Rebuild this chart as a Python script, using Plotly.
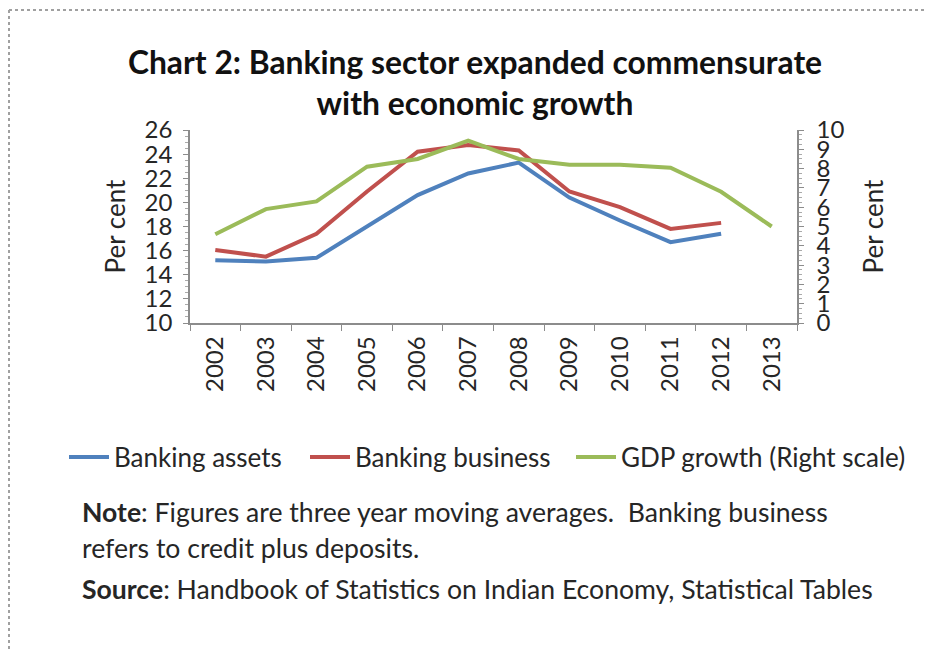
import plotly.graph_objects as go

years = ["2002", "2003", "2004", "2005", "2006", "2007", "2008", "2009", "2010", "2011", "2012", "2013"]
banking_assets = [15.2, 15.1, 15.4, 18.0, 20.6, 22.4, 23.3, 20.4, 18.5, 16.7, 17.4, None]
banking_business = [16.05, 15.5, 17.4, 20.9, 24.2, 24.75, 24.3, 20.9, 19.6, 17.8, 18.3, None]
gdp_growth = [4.6, 5.9, 6.3, 8.1, 8.5, 9.45, 8.5, 8.2, 8.2, 8.05, 6.8, 5.0]

W, H = 933, 651
OFF = 8  # page body margin of the html page
L, R, T, B = 190, 797, 130, 323  # plot area in reference (page) pixels


def px(x):
    return (x - L) / (R - L)


def py(y):
    return (B - y) / (B - T)


FONT = "Lato"
TXT = "#262626"
FS = 24

fig = go.Figure()
fig.add_trace(go.Scatter(x=years, y=banking_assets, name="Banking assets", mode="lines",
                         line=dict(color="#4F81BD", width=4), legend="legend"))
fig.add_trace(go.Scatter(x=years, y=banking_business, name="Banking business", mode="lines",
                         line=dict(color="#C0504D", width=4), legend="legend2"))
fig.add_trace(go.Scatter(x=years, y=gdp_growth, name="GDP growth (Right scale)", mode="lines",
                         line=dict(color="#9BBB59", width=4), yaxis="y2", legend="legend3"))


def leg(text_start):
    return dict(orientation="h", x=px(text_start - 51), xanchor="left",
                y=py(457), yanchor="middle",
                font=dict(family=FONT, size=26, color=TXT), itemwidth=40,
                bgcolor="rgba(0,0,0,0)")


fig.update_layout(
    width=W, height=H,
    margin=dict(l=L - OFF, r=W - R + OFF, t=T - OFF, b=H - B + OFF, pad=0),
    paper_bgcolor="white", plot_bgcolor="white",
    font=dict(family=FONT, size=FS, color=TXT),
    showlegend=True,
    title=dict(text="<b>Chart 2: Banking sector expanded commensurate<br>with economic growth</b>",
               x=(475 - OFF) / W, xanchor="center",
               y=1 - (74 - OFF) / H, yanchor="middle", yref="container",
               font=dict(family=FONT, size=31.8, color="#111111")),
    xaxis=dict(type="category", range=[-0.5, 11.5], tickangle=-90,
               showline=True, linecolor="#8c8c8c", linewidth=1.5,
               ticks="outside", tickson="boundaries", ticklen=6, tickcolor="#8c8c8c",
               showgrid=False, zeroline=False, ticklabelstandoff=2,
               tickfont=dict(size=FS, color=TXT)),
    yaxis=dict(range=[10, 26], dtick=2, tick0=10,
               showline=True, linecolor="#8c8c8c", linewidth=1.5,
               ticks="outside", ticklen=5, tickcolor="#8c8c8c",
               minor=dict(ticks="outside", ticklen=3, dtick=0.5, tickcolor="#aaaaaa"),
               showgrid=False, zeroline=False, ticklabelstandoff=6,
               title=dict(text="Per cent", standoff=12, font=dict(size=26, color=TXT)),
               tickfont=dict(size=FS, color=TXT)),
    yaxis2=dict(range=[0, 10], dtick=1, tick0=0, overlaying="y", side="right",
                showline=True, linecolor="#8c8c8c", linewidth=1.5,
                ticks="outside", ticklen=5, tickcolor="#8c8c8c",
                minor=dict(ticks="outside", ticklen=3, dtick=0.25, tickcolor="#aaaaaa"),
                showgrid=False, zeroline=False, ticklabelstandoff=8,
                title=dict(text="Per cent", standoff=21, font=dict(size=26, color=TXT)),
                tickfont=dict(size=FS, color=TXT)),
    legend=leg(115),
    legend2=leg(356),
    legend3=leg(622),
)

notes = [
    ("<b>Note</b>: Figures are three year moving averages.  Banking business", 512),
    ("refers to credit plus deposits.", 548),
    ("<b>Source</b>: Handbook of Statistics on Indian Economy, Statistical Tables", 589),
]
for text, yy in notes:
    fig.add_annotation(text=text, xref="paper", yref="paper", x=px(80), y=py(yy),
                       xanchor="left", yanchor="middle", showarrow=False, align="left",
                       font=dict(family=FONT, size=26.6, color=TXT))

# dotted page border (top and left)
fig.add_shape(type="line", xref="paper", yref="paper", x0=px(9), x1=px(945), y0=py(10), y1=py(10),
              line=dict(color="#a0a0a0", width=2, dash="dot"))
fig.add_shape(type="line", xref="paper", yref="paper", x0=px(9), x1=px(9), y0=py(10), y1=py(665),
              line=dict(color="#a0a0a0", width=2, dash="dot"))

fig.write_html("out.html")
